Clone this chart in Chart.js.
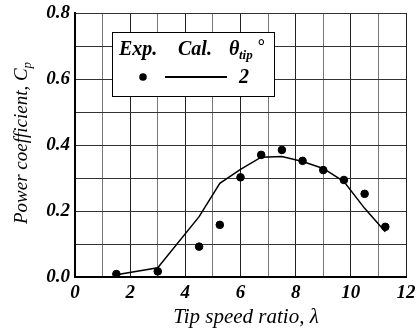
<!DOCTYPE html>
<html>
<head>
<meta charset="utf-8">
<script src="https://cdn.jsdelivr.net/npm/chart.js@4"></script>
<style>
    html, body { margin: 0; padding: 0; background: #fff; }
    #wrap { width: 417px; height: 330px; }
</style>
</head>
<body>
<div id="wrap"><canvas id="chart"></canvas></div>
<script>
/* ─── Data ─── */
const expX = [1.5, 3.0, 4.5, 5.25, 6.0, 6.75, 7.5, 8.25, 9.0, 9.75, 10.5, 11.25];
const expCp = [0.009, 0.017, 0.092, 0.158, 0.302, 0.370, 0.385, 0.352, 0.324, 0.294, 0.252, 0.152];
const calX = [1.5, 3.0, 4.5, 5.25, 6.0, 6.75, 7.5, 8.25, 9.0, 9.75, 10.5, 11.25];
const calCp = [0.007, 0.028, 0.183, 0.284, 0.326, 0.363, 0.365, 0.350, 0.329, 0.289, 0.208, 0.137];
const xTicks = [0, 2, 4, 6, 8, 10, 12];
const yTicks = ['0.0', '0.2', '0.4', '0.6', '0.8'];

const SERIF = '"Liberation Serif", "Times New Roman", serif';

/* ─── Legend box + axis titles ─── */
const decorations = {
    id: 'decorations',
    afterDraw(chart) {
        const ctx = chart.ctx;
        ctx.save();

        // legend box
        const bx = 112, by = 32, bw = 162, bh = 64;
        ctx.fillStyle = '#fff';
        ctx.fillRect(bx, by, bw, bh);
        ctx.strokeStyle = '#000';
        ctx.lineWidth = 1;
        ctx.strokeRect(bx + 0.5, by + 0.5, bw, bh);

        ctx.fillStyle = '#000';
        ctx.textBaseline = 'alphabetic';
        ctx.font = 'bold italic 20px ' + SERIF;
        ctx.fillText('Exp.', bx + 7, by + 23);
        ctx.fillText('Cal.', bx + 66, by + 23);
        ctx.fillText('\u03b8', bx + 117, by + 23);
        ctx.font = 'bold italic 13px ' + SERIF;
        ctx.fillText('tip', bx + 127, by + 27);
        ctx.font = 'bold italic 18px ' + SERIF;
        ctx.fillText('\u00b0', bx + 145, by + 20);

        ctx.beginPath();
        ctx.arc(bx + 31, by + 45, 3.8, 0, Math.PI * 2);
        ctx.fill();
        ctx.lineWidth = 1.8;
        ctx.beginPath();
        ctx.moveTo(bx + 53, by + 45);
        ctx.lineTo(bx + 115, by + 45);
        ctx.stroke();
        ctx.font = 'bold italic 20px ' + SERIF;
        ctx.fillText('2', bx + 127, by + 51);

        // x-axis title
        ctx.font = 'italic 21px ' + SERIF;
        ctx.textAlign = 'center';
        ctx.fillText('Tip speed ratio, \u03bb', 246, 323);

        // y-axis title with subscript
        ctx.translate(27, 143);
        ctx.rotate(-Math.PI / 2);
        ctx.font = 'italic 19px ' + SERIF;
        const main = 'Power coefficient, C';
        const w1 = ctx.measureText(main).width;
        ctx.font = 'italic 13px ' + SERIF;
        const w2 = ctx.measureText('p').width;
        const start = -(w1 + w2) / 2;
        ctx.textAlign = 'left';
        ctx.font = 'italic 19px ' + SERIF;
        ctx.fillText(main, start, 0);
        ctx.font = 'italic 13px ' + SERIF;
        ctx.fillText('p', start + w1, 4);

        ctx.restore();
    }
};

new Chart(document.getElementById('chart'), {
    type: 'scatter',
    data: {
        datasets: [
            {
                label: 'Exp.',
                data: expX.map((x, i) => ({ x: x, y: expCp[i] })),
                backgroundColor: '#000',
                borderColor: '#000',
                pointRadius: 3.8,
                showLine: false,
            },
            {
                label: 'Cal.',
                data: calX.map((x, i) => ({ x: x, y: calCp[i] })),
                borderColor: '#000',
                borderWidth: 1.5,
                pointRadius: 0,
                showLine: true,
                tension: 0,
            }
        ]
    },
    options: {
        responsive: true,
        maintainAspectRatio: false,
        animation: false,
        layout: { padding: { left: 0, right: 11, top: 13, bottom: 0 } },
        plugins: {
            legend: { display: false },
            tooltip: { enabled: false }
        },
        scales: {
            x: {
                type: 'linear',
                min: 0, max: 12,
                ticks: {
                    stepSize: 1,
                    color: '#000',
                    font: { family: SERIF, size: 19, style: 'italic', weight: 'bold' },
                    padding: 5,
                    maxRotation: 0,
                    callback: v => xTicks.includes(v) ? String(v) : ''
                },
                grid: {
                    color: c => (c.tick && c.tick.value % 2 === 1) ? '#777' : '#222',
                    lineWidth: 1,
                    drawTicks: false
                },
                border: { color: '#000', width: 2 },
                afterFit: s => { s.height = 53; s.paddingLeft = 0; s.paddingRight = 0; }
            },
            y: {
                min: 0, max: 0.8,
                ticks: {
                    stepSize: 0.1,
                    color: '#000',
                    font: { family: SERIF, size: 19, style: 'italic', weight: 'bold' },
                    padding: 5,
                    callback: v => {
                        const s = v.toFixed(1);
                        return yTicks.includes(s) ? s : '';
                    }
                },
                grid: {
                    color: '#333',
                    lineWidth: 1,
                    drawTicks: false
                },
                border: { color: '#000', width: 2 },
                afterFit: s => { s.width = 75; s.paddingTop = 0; s.paddingBottom = 0; }
            }
        }
    },
    plugins: [decorations]
});
</script>
</body>
</html>
